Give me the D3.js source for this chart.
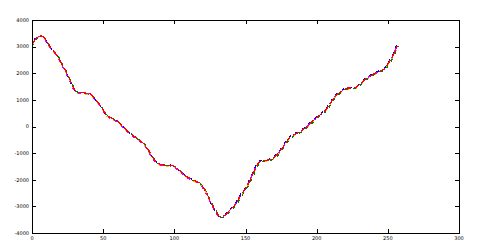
<!DOCTYPE html>
<html>
<head>
<meta charset="utf-8">
<script src="https://cdn.jsdelivr.net/npm/d3@7"></script>
<style>
body { margin: 0; background: #fff; }
svg { display: block; }
</style>
</head>
<body>
<svg width="478" height="248"></svg>
<script>
// values
var xs = [0, 2.1, 4.2, 6.3, 8.4, 12.6, 17.4, 22, 24.4, 26.7, 29, 31.4, 34.9, 39.6, 41.9, 44.3, 47.8, 52.5, 57.1, 60.6,
  64.2, 67.7, 71.2, 74.7, 78.2, 81.7, 85.2, 88.7, 92.2, 97, 100.5, 104, 108.7, 114.5, 118, 121.5, 125, 128.6, 132.1, 135.6,
  139.1, 142.6, 146.1, 150.8, 155.5, 159, 161.4, 166, 169.5, 173, 176.6, 180.1, 183.6, 188.3, 193, 197.6, 202.3, 205.9, 208.9, 212.9,
  216.4, 221.1, 226.9, 230.4, 235.1, 239.8, 244.5, 248, 250.3, 252.7, 255, 256.6];
var ys = [3100, 3250, 3380, 3400, 3340, 3000, 2685, 2246, 1998, 1746, 1472, 1307, 1270, 1247, 1183, 1022, 808, 432, 282, 180,
  -8, -195, -346, -481, -631, -883, -1194, -1382, -1446, -1457, -1510, -1671, -1885, -2036, -2133, -2385, -2761, -3136, -3388, -3324,
  -3136, -2948, -2637, -2261, -1758, -1382, -1285, -1258, -1194, -1007, -759, -481, -319, -195, -8, 218, 432, 593, 808, 1119,
  1285, 1435, 1457, 1585, 1810, 1961, 2085, 2186, 2374, 2562, 2809, 3035];
var xTicks = [0, 50, 100, 150, 200, 250, 300];
var yTicks = [-4000, -3000, -2000, -1000, 0, 1000, 2000, 3000, 4000];
var lineColors = ["#e6c800", "#008000", "#0000ff", "#e600e6", "#ff0000"];

var svg = d3.select("svg");
var plotL = 32, plotR = 459, plotT = 20, plotB = 233;
var x = d3.scaleLinear().domain([0, 300]).range([plotL, plotR]);
var y = d3.scaleLinear().domain([-4000, 4000]).range([plotB, plotT]);

var pts = xs.map(function(v, i) { return [v, ys[i]]; });
var line = d3.line()
  .x(function(d) { return x(d[0]); })
  .y(function(d) { return y(d[1]); })
  .curve(d3.curveCatmullRom);

// small nudges so the stacked colours peek out like in the picture
var nudges = [[0, 1], [0.8, 0.6], [-0.6, -0.4], [-0.5, 0.5], [0, 0]];
lineColors.forEach(function(c, i) {
  svg.append("path")
    .datum(pts)
    .attr("d", line)
    .attr("transform", "translate(" + nudges[i][0] + "," + nudges[i][1] + ")")
    .attr("shape-rendering", "crispEdges")
    .style("fill", "none")
    .style("stroke", c)
    .style("stroke-width", 1.3)
    .style("stroke-dasharray", i == 4 ? "7 3" : "3 5")
    .style("stroke-dashoffset", i * 2);
});

// frame
svg.append("rect")
  .attr("x", plotL + 0.5).attr("y", plotT + 0.5)
  .attr("width", plotR - plotL).attr("height", plotB - plotT)
  .style("fill", "none").style("stroke", "#000").style("stroke-width", 1)
  .attr("shape-rendering", "crispEdges");

var tickLen = 4;
xTicks.forEach(function(t) {
  var px = Math.round(x(t)) + 0.5;
  svg.append("line").attr("x1", px).attr("x2", px).attr("y1", plotB).attr("y2", plotB - tickLen)
    .style("stroke", "#000").attr("shape-rendering", "crispEdges");
  svg.append("line").attr("x1", px).attr("x2", px).attr("y1", plotT).attr("y2", plotT + tickLen)
    .style("stroke", "#000").attr("shape-rendering", "crispEdges");
  svg.append("text")
    .attr("x", x(t)).attr("y", plotB + 7)
    .attr("text-anchor", "middle")
    .style("font-family", "DejaVu Sans")
    .style("font-size", "5px")
    .style("fill", "#000")
    .text(t);
});
yTicks.forEach(function(t) {
  var py = Math.round(y(t)) + 0.5;
  svg.append("line").attr("x1", plotL).attr("x2", plotL + tickLen).attr("y1", py).attr("y2", py)
    .style("stroke", "#000").attr("shape-rendering", "crispEdges");
  svg.append("line").attr("x1", plotR).attr("x2", plotR - tickLen).attr("y1", py).attr("y2", py)
    .style("stroke", "#000").attr("shape-rendering", "crispEdges");
  svg.append("text")
    .attr("x", plotL - 3).attr("y", y(t) + 1.8)
    .attr("text-anchor", "end")
    .style("font-family", "DejaVu Sans")
    .style("font-size", "5px")
    .style("fill", "#000")
    .text(t);
});
</script>
</body>
</html>
